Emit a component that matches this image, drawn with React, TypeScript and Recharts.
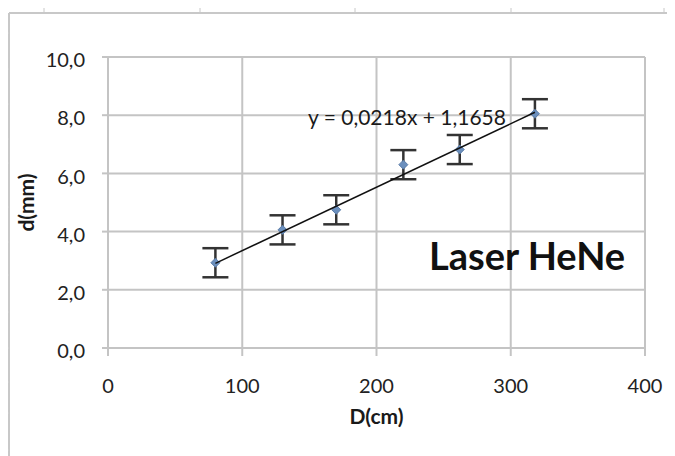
import { ScatterChart, Scatter, XAxis, YAxis, CartesianGrid, ErrorBar } from 'recharts';

// measured points (D in cm, d in mm)
const distances = [80, 130, 170, 220, 262, 318];
const widths = [2.93, 4.06, 4.75, 6.3, 6.82, 8.05];
const errors = [0.5, 0.5, 0.5, 0.5, 0.5, 0.5];

// trendline ends as drawn in the picture
const trendX = [80, 318];
const trendY = [2.91, 8.1];

const xTicks = [0, 100, 200, 300, 400];
const yTicks = [0, 2, 4, 6, 8, 10];

const equation = 'y = 0,0218x + 1,1658';
const title = 'Laser HeNe';

const points = distances.map((x, i) => ({ x, y: widths[i], err: errors[i] }));
const trend = trendX.map((x, i) => ({ x, y: trendY[i] }));

const GRID = '#c4c4c4';
const FONT = 'Lato, "Open Sans", sans-serif';

function Marker(props: any) {
  const { cx, cy } = props;
  if (cx == null || cy == null) return <g />;
  return (
    <path
      d={`M${cx},${cy - 4.5} L${cx + 4.5},${cy} L${cx},${cy + 4.5} L${cx - 4.5},${cy} Z`}
      fill="#6b8fbd"
      stroke="#5a7ca8"
      strokeWidth={1}
    />
  );
}

const fmt = (v: number) => v.toFixed(1).replace('.', ',');

function Frame() {
  const top = [36, 192, 347, 503, 656];
  const left = [25, 61, 96, 131, 155, 199, 234, 267, 304, 340, 374, 405, 442];
  return (
    <svg width={675} height={456} style={{ position: 'absolute', left: -8, top: -8 }}>
      <line x1={9} y1={13} x2={675} y2={13} stroke="#c8c8c8" strokeWidth={2} />
      <line x1={9} y1={13} x2={9} y2={456} stroke="#c8c8c8" strokeWidth={2} />
      {top.map((x) => (
        <line key={'t' + x} x1={x + 8} y1={5} x2={x + 8} y2={13} stroke="#c8c8c8" strokeWidth={1} />
      ))}
      {left.map((y) => (
        <line key={'l' + y} x1={3} y1={y + 8} x2={9} y2={y + 8} stroke="#cfcfcf" strokeWidth={1} />
      ))}
    </svg>
  );
}

export default function App() {
  return (
    <div style={{ position: 'relative', width: 667, height: 448, fontFamily: FONT, background: '#fff' }}>
      <Frame />
      <div style={{ position: 'absolute', left: 0, top: 0 }}>
        <ScatterChart width={667} height={448} margin={{ top: 49, right: 30, bottom: 0, left: 0 }}>
          <CartesianGrid stroke={GRID} strokeWidth={2} />
          <XAxis
            type="number"
            dataKey="x"
            domain={[0, 400]}
            ticks={xTicks}
            height={108}
            axisLine={{ stroke: GRID, strokeWidth: 2 }}
            tickLine={{ stroke: GRID, strokeWidth: 2 }}
            tickSize={8}
            tickMargin={23}
            tick={{ fill: '#222', fontSize: 20, fontFamily: FONT }}
            label={{
              value: 'D(cm)',
              position: 'insideBottom',
              offset: 32,
              style: { fill: '#1a1a1a', fontSize: 21, fontWeight: 700, fontFamily: FONT }
            }}
          />
          <YAxis
            type="number"
            dataKey="y"
            domain={[0, 10]}
            ticks={yTicks}
            width={100}
            axisLine={{ stroke: GRID, strokeWidth: 2 }}
            tickLine={{ stroke: GRID, strokeWidth: 2 }}
            tickSize={6}
            tickMargin={17}
            tickFormatter={fmt}
            tick={{ fill: '#222', fontSize: 20, fontFamily: FONT, dy: 3 }}
            label={{
              value: 'd(mm)',
              angle: -90,
              position: 'insideLeft',
              offset: 19,
              style: { fill: '#1a1a1a', fontSize: 21, fontWeight: 700, fontFamily: FONT, textAnchor: 'middle' }
            }}
          />
          <Scatter data={points} shape={Marker} isAnimationActive={false}>
            <ErrorBar dataKey="err" direction="y" width={13} stroke="#333" strokeWidth={2.5} />
          </Scatter>
          <Scatter
            data={trend}
            line={{ stroke: '#111', strokeWidth: 1.5 }}
            shape={() => <g />}
            isAnimationActive={false}
          />
        </ScatterChart>
      </div>
      <div
        style={{
          position: 'absolute',
          left: 300,
          top: 98,
          fontSize: 21,
          lineHeight: 1,
          color: '#1a1a1a',
          whiteSpace: 'nowrap'
        }}
      >
        {equation}
      </div>
      <div
        style={{
          position: 'absolute',
          left: 421,
          top: 228,
          fontSize: 38,
          fontWeight: 700,
          lineHeight: 1,
          color: '#111',
          whiteSpace: 'nowrap'
        }}
      >
        {title}
      </div>
    </div>
  );
}
